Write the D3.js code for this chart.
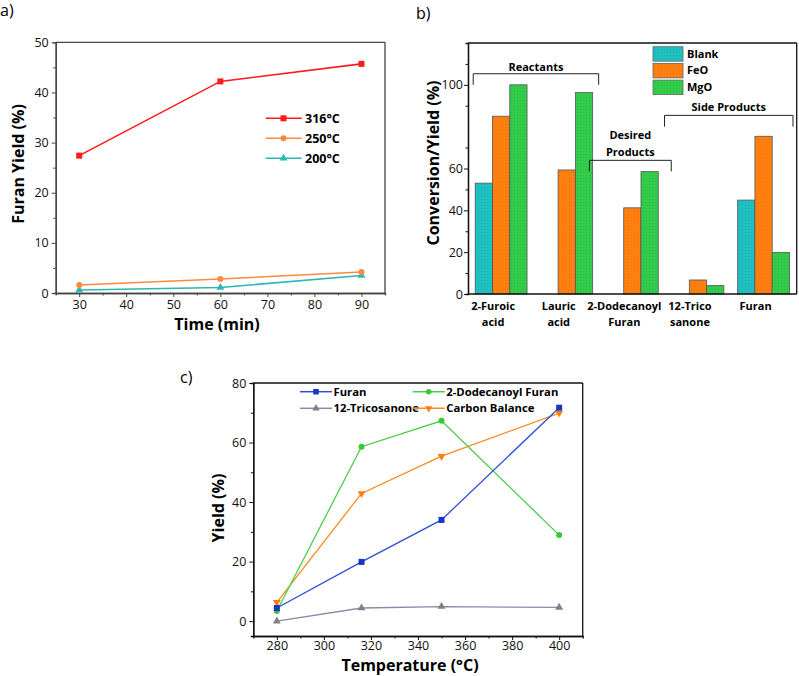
<!DOCTYPE html>
<html><head><meta charset="utf-8">
<script src="https://cdn.jsdelivr.net/npm/d3@7/dist/d3.min.js"></script>
<style>
body{margin:0;background:#fff;}
svg{font-family:"Open Sans",sans-serif;}
.tick text{font-family:"Open Sans",sans-serif;}
</style></head>
<body><svg id="c" width="799" height="676"></svg>
<script>
// ---------- Panel a data ----------
const timeMin = [30, 60, 90];
const yield316 = [27.4, 42.2, 45.7];
const yield250 = [1.6, 2.8, 4.2];
const yield200 = [0.6, 1.1, 3.5];
const seriesA = ["316°C", "250°C", "200°C"];

// ---------- Panel b data ----------
const barCats = ["2-Furoic acid", "Lauric acid", "2-Dodecanoyl Furan", "12-Trico sanone", "Furan"];
const barCatLines = [["2-Furoic", "acid"], ["Lauric", "acid"], ["2-Dodecanoyl", "Furan"], ["12-Trico", "sanone"], ["Furan"]];
const barSeries = ["Blank", "FeO", "MgO"];
const blankVals = [53, null, null, null, 44.9];
const feoVals = [85, 59.3, 41.2, 6.7, 75.4];
const mgoVals = [100, 96.3, 58.5, 4.0, 19.8];
const bTicks = [0, 20, 40, 60, 100];

// ---------- Panel c data ----------
const tempC = [280, 316, 350, 400];
const furanY = [4.4, 19.9, 34.0, 71.7];
const dodecY = [3.4, 58.6, 67.3, 28.9];
const tricoY = [0, 4.4, 4.9, 4.6];
const carbonY = [6.3, 42.9, 55.4, 69.9];
const seriesC = ["Furan", "2-Dodecanoyl Furan", "12-Tricosanone", "Carbon Balance"];

const svg = d3.select("#c");

function marker(g, type, x, y, color, s) {
  if (type === "square") g.append("rect").attr("x", x - s/2).attr("y", y - s/2).attr("width", s).attr("height", s).attr("fill", color);
  else if (type === "circle") g.append("circle").attr("cx", x).attr("cy", y).attr("r", s/2).attr("fill", color);
  else if (type === "tri") g.append("path").attr("d", d3.symbol(d3.symbolTriangle, s*s*0.75)()).attr("transform", `translate(${x},${y})`).attr("fill", color);
  else if (type === "tridown") g.append("path").attr("d", d3.symbol(d3.symbolTriangle, s*s*0.75)()).attr("transform", `translate(${x},${y}) rotate(180)`).attr("fill", color);
}

function styleAxis(g, color) {
  g.selectAll(".domain").attr("stroke", color).attr("stroke-width", 1.3);
  g.selectAll(".tick line").attr("stroke", color).attr("stroke-width", 1);
  g.selectAll(".tick text").attr("fill", "#111").attr("font-size", 12.5);
}

// ================= Panel a =================
{
  const L = 55.7, R = 385, T = 42.3, B = 293;
  const x = d3.scaleLinear().domain([25, 95]).range([L, R]);
  const y = d3.scaleLinear().domain([0, 50]).range([B, T]);
  const ac = "#444";
  const g = svg.append("g");
  g.append("g").attr("transform", `translate(0,${B})`).call(d3.axisBottom(x).tickValues(d3.range(35, 95, 10)).tickSize(2.5).tickFormat("")).call(s => styleAxis(s, ac));
  g.append("g").attr("transform", `translate(${L},0)`).call(d3.axisLeft(y).tickValues(d3.range(5, 50, 10)).tickSize(2.5).tickFormat("")).call(s => styleAxis(s, ac));
  g.append("g").attr("transform", `translate(0,${B})`).call(d3.axisBottom(x).tickValues(d3.range(30, 91, 10)).tickSize(4).tickSizeOuter(0).tickPadding(3)).call(s => styleAxis(s, ac));
  g.append("g").attr("transform", `translate(${L},0)`).call(d3.axisLeft(y).ticks(5).tickSize(4).tickSizeOuter(0).tickPadding(3)).call(s => styleAxis(s, ac));
  g.append("line").attr("x1", L).attr("x2", R).attr("y1", T).attr("y2", T).attr("stroke", ac).attr("stroke-width", 1.3);
  g.append("line").attr("x1", R).attr("x2", R).attr("y1", T).attr("y2", B).attr("stroke", ac).attr("stroke-width", 1.3);

  const sets = [[yield316, "#ff1a1a", "square"], [yield250, "#ff8a3d", "circle"], [yield200, "#2ab8b0", "tri"]];
  const line = d3.line().x((d, i) => x(timeMin[i])).y(d => y(d));
  sets.slice().reverse().forEach(([vals, col, m]) => {
    g.append("path").attr("d", line(vals)).attr("fill", "none").attr("stroke", col).attr("stroke-width", 1.6);
    vals.forEach((v, i) => marker(g, m, x(timeMin[i]), y(v), col, 6));
  });
  sets.forEach(([vals, col, m], i) => {
    const ly = 118.3 + i * 20;
    g.append("line").attr("x1", 265.7).attr("x2", 301.7).attr("y1", ly).attr("y2", ly).attr("stroke", col).attr("stroke-width", 1.6);
    marker(g, m, 283.5, ly, col, 6);
    g.append("text").attr("x", 305).attr("y", ly + 4.5).attr("font-size", 12.5).attr("font-weight", "bold").text(seriesA[i]);
  });
  g.append("text").attr("transform", `translate(24,164) rotate(-90)`).attr("text-anchor", "middle").attr("font-size", 16).attr("font-weight", "bold").text("Furan Yield (%)");
  g.append("text").attr("x", 217).attr("y", 330).attr("text-anchor", "middle").attr("font-size", 16).attr("font-weight", "bold").text("Time (min)");
  svg.append("text").attr("x", 0).attr("y", 16).attr("font-size", 16).text("a)");
}

// ================= Panel b =================
{
  const L = 468, R = 796.7, T = 43, B = 294;
  const x0 = d3.scaleBand().domain(barCats).range([L, R]).paddingInner(0.21).paddingOuter(0.11);
  const x1 = d3.scaleBand().domain(barSeries).range([0, x0.bandwidth()]);
  const y = d3.scaleLinear().domain([0, 120]).range([B, T]);
  const colors = {Blank: "#1fc0c0", FeO: "#ff8010", MgO: "#33cc4a"};
  const dots = {Blank: "#0f8f8f", FeO: "#c05a00", MgO: "#1f9030"};
  const vals = {Blank: blankVals, FeO: feoVals, MgO: mgoVals};
  const defs = svg.append("defs");
  barSeries.forEach(s => {
    const p = defs.append("pattern").attr("id", "pat" + s).attr("patternUnits", "userSpaceOnUse").attr("width", 3).attr("height", 3);
    p.append("rect").attr("width", 3).attr("height", 3).attr("fill", colors[s]);
    p.append("rect").attr("x", 1).attr("y", 1).attr("width", 0.8).attr("height", 0.8).attr("fill", dots[s]).attr("opacity", 0.45);
  });
  const g = svg.append("g");
  barSeries.forEach(s => {
    barCats.forEach((c, i) => {
      const v = vals[s][i];
      if (v == null) return;
      g.append("rect").attr("x", x0(c) + x1(s)).attr("y", y(v)).attr("width", x1.bandwidth()).attr("height", y(0) - y(v))
        .attr("fill", `url(#pat${s})`).attr("stroke", "#555").attr("stroke-width", 0.8);
    });
  });
  const ac = "#111";
  g.append("g").attr("transform", `translate(${L},0)`).call(d3.axisLeft(y).tickValues(d3.range(10, 120, 20)).tickSize(2.5).tickFormat("")).call(s => styleAxis(s, ac));
  g.append("g").attr("transform", `translate(${L},0)`).call(d3.axisLeft(y).tickValues(bTicks).tickSize(4).tickSizeOuter(0).tickPadding(1)).call(s => styleAxis(s, ac));
  g.append("line").attr("x1", L).attr("x2", R).attr("y1", B).attr("y2", B).attr("stroke", ac).attr("stroke-width", 1.3);
  g.append("line").attr("x1", L).attr("x2", R).attr("y1", T).attr("y2", T).attr("stroke", ac).attr("stroke-width", 1.3);
  g.append("line").attr("x1", R).attr("x2", R).attr("y1", T).attr("y2", B).attr("stroke", ac).attr("stroke-width", 1.3);
  barCats.forEach((c, i) => {
    const cx = x0(c) + x0.bandwidth() / 2 - 8;
    barCatLines[i].forEach((t, j) => {
      g.append("text").attr("x", cx).attr("y", 310 + j * 16).attr("text-anchor", "middle").attr("font-size", 11).attr("font-weight", "bold").text(t);
    });
  });
  barSeries.forEach((s, i) => {
    const ly = 46.7 + i * 16.7;
    g.append("rect").attr("x", 653).attr("y", ly).attr("width", 30).attr("height", 14.5).attr("fill", `url(#pat${s})`).attr("stroke", "#666").attr("stroke-width", 0.8);
    g.append("text").attr("x", 687).attr("y", ly + 11).attr("font-size", 11).attr("font-weight", "bold").text(s);
  });
  function bracket(x1p, x2p, yTop, yBot, lines, textY) {
    g.append("path").attr("d", `M${x1p},${y(yBot)}V${y(yTop)}H${x2p}V${y(yBot)}`).attr("fill", "none").attr("stroke", "#222").attr("stroke-width", 1);
    lines.forEach((t, j) => g.append("text").attr("x", (x1p + x2p) / 2).attr("y", textY + j * 17).attr("text-anchor", "middle").attr("font-size", 11).attr("font-weight", "bold").text(t));
  }
  bracket(x0(barCats[0]) - 2, x0(barCats[1]) + x0.bandwidth() + 6, 105.3, 100, ["Reactants"], 70.5);
  bracket(x0(barCats[2]) - 17, x0(barCats[2]) + x0.bandwidth() + 13, 63.9, 58.6, ["Desired", "Products"], 139);
  bracket(x0(barCats[3]) - 7.5, x0(barCats[4]) + x0.bandwidth() + 3.5, 85.4, 80, ["Side Products"], 110.5);
  g.append("text").attr("transform", `translate(439,163) rotate(-90)`).attr("text-anchor", "middle").attr("font-size", 16).attr("font-weight", "bold").text("Conversion/Yield (%)");
  svg.append("text").attr("x", 416).attr("y", 19).attr("font-size", 16).text("b)");
}

// ================= Panel c =================
{
  const L = 253.3, R = 582.7, T = 383, B = 636;
  const x = d3.scaleLinear().domain([270, 410]).range([L, R]);
  const y = d3.scaleLinear().domain([-5, 80]).range([B, T]);
  const ac = "#111";
  const g = svg.append("g");
  g.append("g").attr("transform", `translate(0,${B})`).call(d3.axisBottom(x).tickValues(d3.range(290, 410, 20)).tickSize(2.5).tickFormat("")).call(s => styleAxis(s, ac));
  g.append("g").attr("transform", `translate(${L},0)`).call(d3.axisLeft(y).tickValues(d3.range(10, 80, 20)).tickSize(2.5).tickFormat("")).call(s => styleAxis(s, ac));
  g.append("g").attr("transform", `translate(0,${B})`).call(d3.axisBottom(x).tickValues(d3.range(280, 401, 20)).tickSize(4).tickSizeOuter(0).tickPadding(1)).call(s => styleAxis(s, ac));
  g.append("g").attr("transform", `translate(${L},0)`).call(d3.axisLeft(y).tickValues(d3.range(0, 81, 20)).tickSize(4).tickSizeOuter(0).tickPadding(3)).call(s => styleAxis(s, ac));
  g.append("line").attr("x1", L).attr("x2", R).attr("y1", T).attr("y2", T).attr("stroke", ac).attr("stroke-width", 1.3);
  g.append("line").attr("x1", R).attr("x2", R).attr("y1", T).attr("y2", B).attr("stroke", ac).attr("stroke-width", 1.3);

  const sets = [[furanY, "#2f4fd6", "#1a33c8", "square"], [dodecY, "#4ccc4c", "#33cc33", "circle"], [tricoY, "#8a8aa8", "#808080", "tri"], [carbonY, "#ff8a1f", "#ff7f0e", "tridown"]];
  const line = d3.line().x((d, i) => x(tempC[i])).y(d => y(d));
  sets.slice().reverse().forEach(([vals, col]) => {
    g.append("path").attr("d", line(vals)).attr("fill", "none").attr("stroke", col).attr("stroke-width", 1.3);
  });
  sets.slice().reverse().forEach(([vals, col, mc, m]) => {
    vals.forEach((v, i) => marker(g, m, x(tempC[i]), y(v), mc, 6));
  });
  const legPos = [[300, 391.7], [412.7, 391.7], [300, 408.3], [412.7, 408.3]];
  sets.forEach(([vals, col, mc, m], i) => {
    const [lx, ly] = legPos[i];
    g.append("line").attr("x1", lx).attr("x2", lx + 32).attr("y1", ly).attr("y2", ly).attr("stroke", col).attr("stroke-width", 1.5);
    marker(g, m, lx + 16, ly, mc, 5.5);
    g.append("text").attr("x", lx + 33.5).attr("y", ly + 4).attr("font-size", 11.3).attr("font-weight", "bold").text(seriesC[i]);
  });
  g.append("text").attr("transform", `translate(224,508) rotate(-90)`).attr("text-anchor", "middle").attr("font-size", 16).attr("font-weight", "bold").text("Yield (%)");
  g.append("text").attr("x", 410).attr("y", 671).attr("text-anchor", "middle").attr("font-size", 16).attr("font-weight", "bold").text("Temperature (°C)");
  svg.append("text").attr("x", 180).attr("y", 383).attr("font-size", 16).text("c)");
}
</script></body></html>
